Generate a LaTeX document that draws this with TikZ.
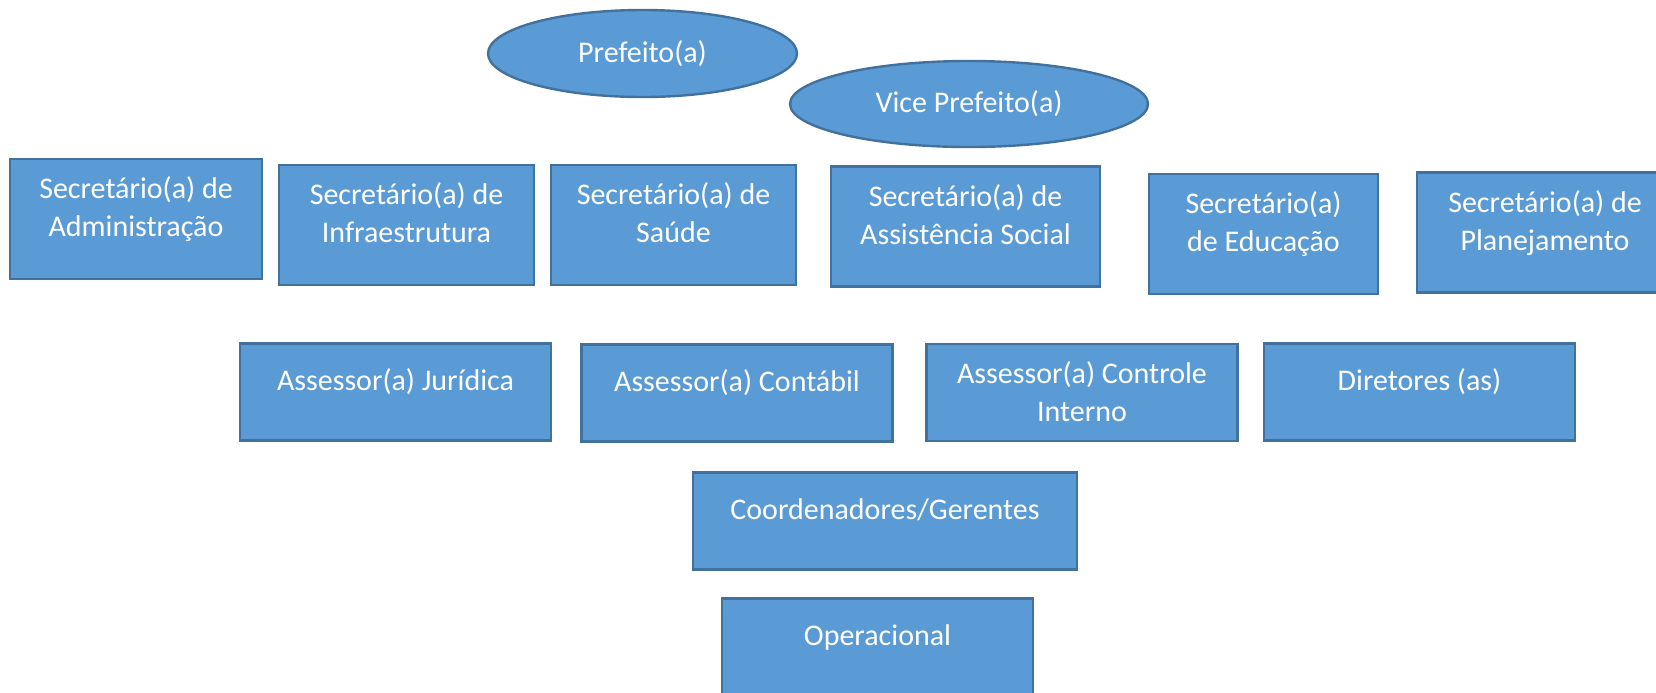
\documentclass[tikz,border=0pt]{standalone}
\usepackage{fontspec}
\setmainfont{Carlito}
\usetikzlibrary{shapes.geometric}
\definecolor{boxfill}{HTML}{5B9BD5}
\definecolor{boxline}{HTML}{41719C}
\begin{document}
\begin{tikzpicture}[x=0.5pt,y=-0.5pt,
unit/.style={draw=boxline,fill=boxfill,line width=1.2pt,text=white,inner sep=0pt,align=center,font=\fontsize{15}{19}\selectfont},
chief/.style={unit,ellipse},
sec/.style={unit,minimum height=60pt,text height=38.75pt,text depth=21.25pt},
aide/.style={unit,minimum height=48.5pt,text height=23.5pt,text depth=25pt},
aidetwo/.style={unit,minimum height=48.5pt,text height=38.5pt,text depth=10pt}]
\useasboundingbox (0,0) rectangle (1656,692);
\clip (0,0) rectangle (1656,692);
\node[chief,minimum width=154.5pt,minimum height=43.5pt] (pref) at (642.5,53.5) {Prefeito(a)};
\node[chief,minimum width=179pt,minimum height=43pt] (vice) at (969,104) {Vice Prefeito(a)};
\node[sec,minimum width=126pt] (secadm) at (136,219) {Secretário(a) de\\Administração};
\node[sec,minimum width=127.5pt] (secinf) at (406.5,225) {Secretário(a) de\\Infraestrutura};
\node[sec,minimum width=122.5pt] (secsau) at (673.5,225) {Secretário(a) de\\Saúde};
\node[sec,minimum width=134.5pt] (secass) at (965.5,226.5) {Secretário(a) de\\Assistência Social};
\node[sec,minimum width=114.5pt] (secedu) at (1263.5,234) {Secretário(a)\\de Educação};
\node[sec,minimum width=128pt] (secpla) at (1545,232.5) {Secretário(a) de\\Planejamento};
\node[aide,minimum width=155.5pt] (asjur) at (395.5,392) {Assessor(a) Jurídica};
\node[aide,minimum width=155.5pt] (ascon) at (737,393) {Assessor(a) Contábil};
\node[aidetwo,minimum width=155.5pt] (asctl) at (1082,392.5) {Assessor(a) Controle\\Interno};
\node[aide,minimum width=155.5pt] (dir) at (1419.5,392) {Diretores (as)};
\node[aide,minimum width=192pt] (coord) at (885,521) {Coordenadores/Gerentes};
\node[aide,minimum width=155.5pt] (oper) at (877.5,647) {Operacional};
\end{tikzpicture}
\end{document}
